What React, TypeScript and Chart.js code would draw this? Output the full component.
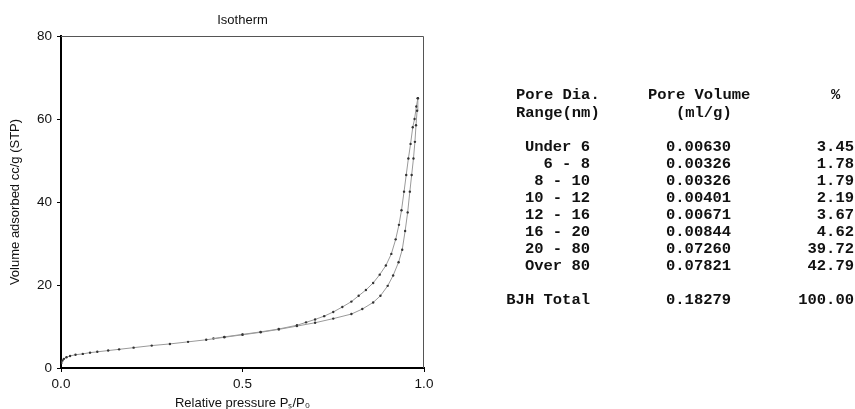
import { useEffect, useRef } from "react";
import { Chart, registerables } from "chart.js";

Chart.register(...registerables);

// ---- Isotherm data (relative pressure, volume adsorbed cc/g STP) ----
const adsorptionP = [0.001, 0.004, 0.008, 0.015, 0.025, 0.04, 0.06, 0.08, 0.1, 0.13, 0.16, 0.2, 0.25, 0.3, 0.35, 0.4, 0.45, 0.5, 0.55, 0.6, 0.65, 0.7, 0.75, 0.8, 0.83, 0.86, 0.88, 0.9, 0.915, 0.93, 0.94, 0.948, 0.955, 0.961, 0.966, 0.971, 0.975, 0.978, 0.981, 0.983];
const adsorptionV = [1.2, 1.8, 2.2, 2.6, 2.9, 3.2, 3.4, 3.7, 3.9, 4.2, 4.5, 4.9, 5.4, 5.8, 6.3, 6.8, 7.4, 8.0, 8.6, 9.3, 10.1, 10.9, 11.9, 13.0, 14.2, 15.8, 17.4, 19.8, 22.3, 25.5, 28.5, 33.0, 37.5, 42.5, 46.5, 50.5, 54.5, 58.5, 62.0, 65.0];
const desorptionP = [0.983, 0.979, 0.974, 0.969, 0.963, 0.957, 0.951, 0.945, 0.938, 0.931, 0.922, 0.91, 0.895, 0.878, 0.86, 0.84, 0.82, 0.8, 0.775, 0.75, 0.725, 0.7, 0.675, 0.65, 0.6, 0.55, 0.5, 0.45, 0.42];
const desorptionV = [65, 63, 60, 58, 54, 50.5, 46.5, 42.5, 38, 34.5, 31, 27.5, 24.7, 22.5, 20.5, 18.8, 17.4, 16.0, 14.7, 13.5, 12.5, 11.7, 11.0, 10.3, 9.4, 8.7, 8.1, 7.5, 7.1];

const xTickValues = [0, 0.5, 1];
const yTickValues = [0, 20, 40, 60, 80];

const chartTitle = "Isotherm";
const xTitle = "Relative pressure P\u209B/P\u2080";
const yTitle = "Volume adsorbed cc/g (STP)";

// ---- BJH pore table ----
const headerDia = ["Pore Dia.", "Range(nm)"];
const headerVol = ["Pore Volume", "   (ml/g)"];
const headerPct = "%";
const poreRanges = ["Under 6", "6 - 8", "8 - 10", "10 - 12", "12 - 16", "16 - 20", "20 - 80", "Over 80"];
const poreVolumes = ["0.00630", "0.00326", "0.00326", "0.00401", "0.00671", "0.00844", "0.07260", "0.07821"];
const porePercents = ["3.45", "1.78", "1.79", "2.19", "3.67", "4.62", "39.72", "42.79"];
const totalLabel = "BJH Total";
const totalVolume = "0.18279";
const totalPercent = "100.00";

const SANS = '"Liberation Sans", Arial, Helvetica, sans-serif';
const MONO = '"Liberation Mono", "Courier New", monospace';

const framePlugin = {
  id: "frameAndTitle",
  afterDraw(chart: any) {
    const { ctx, chartArea } = chart;
    const { left, right, top, bottom } = chartArea;
    ctx.save();
    ctx.strokeStyle = "#555";
    ctx.lineWidth = 1;
    ctx.beginPath();
    ctx.moveTo(left, top + 0.5);
    ctx.lineTo(right - 0.5, top + 0.5);
    ctx.lineTo(right - 0.5, bottom);
    ctx.stroke();
    ctx.fillStyle = "#111";
    ctx.font = `13px ${SANS}`;
    ctx.textAlign = "center";
    ctx.textBaseline = "middle";
    ctx.fillText(chartTitle, (left + right) / 2, 20);
    ctx.restore();
  },
};

export default function App() {
  const ref = useRef<HTMLCanvasElement>(null);

  useEffect(() => {
    const canvas = ref.current;
    if (!canvas) return;
    const toPoints = (xs: number[], ys: number[]) => xs.map((x, i) => ({ x, y: ys[i] }));
    const seriesStyle = {
      showLine: true,
      borderColor: "#9a9a9a",
      borderWidth: 1,
      pointRadius: 1.2,
      pointBackgroundColor: "#333",
      pointBorderWidth: 0,
      tension: 0,
    };
    const chart = new Chart(canvas, {
      type: "scatter",
      data: {
        datasets: [
          { label: "Adsorption", data: toPoints(adsorptionP, adsorptionV), ...seriesStyle },
          { label: "Desorption", data: toPoints(desorptionP, desorptionV), ...seriesStyle },
        ],
      },
      options: {
        responsive: false,
        animation: false,
        devicePixelRatio: 1,
        layout: { padding: { top: 36, right: 16, left: 0, bottom: 0 } },
        plugins: {
          legend: { display: false },
          tooltip: { enabled: false },
          title: { display: false },
        },
        scales: {
          x: {
            type: "linear",
            min: 0,
            max: 1,
            afterFit(scale: any) {
              scale.height = 41;
            },
            afterBuildTicks(scale: any) {
              scale.ticks = xTickValues.map((v) => ({ value: v }));
            },
            ticks: {
              color: "#111",
              font: { family: SANS, size: 13.5 },
              padding: 4,
              maxRotation: 0,
              callback: (v: any) => Number(v).toFixed(1),
            },
            grid: {
              display: true,
              drawOnChartArea: false,
              drawTicks: true,
              tickLength: 4,
              color: "#000",
              lineWidth: 1,
            },
            border: { display: true, color: "#000", width: 2 },
            title: {
              display: true,
              text: xTitle,
              color: "#111",
              font: { family: SANS, size: 13 },
              padding: { top: 0, bottom: -2 },
            },
          },
          y: {
            type: "linear",
            min: 0,
            max: 80,
            afterFit(scale: any) {
              scale.width = 61;
            },
            afterBuildTicks(scale: any) {
              scale.ticks = yTickValues.map((v) => ({ value: v }));
            },
            ticks: {
              color: "#111",
              font: { family: SANS, size: 13.5 },
              padding: 5,
            },
            grid: {
              display: true,
              drawOnChartArea: false,
              drawTicks: true,
              tickLength: 4,
              color: "#000",
              lineWidth: 1,
            },
            border: { display: true, color: "#000", width: 2 },
            title: {
              display: true,
              text: yTitle,
              color: "#111",
              font: { family: SANS, size: 13 },
              padding: { top: 8, bottom: 0 },
            },
          },
        },
      },
      plugins: [framePlugin],
    } as any);
    return () => chart.destroy();
  }, []);

  const lineH = 17;
  const cell = (text: string, top: number, style: any, key: string) => (
    <div
      key={key}
      style={{
        position: "absolute",
        top: top - 7.5,
        height: lineH,
        lineHeight: `${lineH}px`,
        whiteSpace: "pre",
        ...style,
      }}
    >
      {text}
    </div>
  );

  const rowCenters = poreRanges.map((_, i) => 146 + i * 17);

  return (
    <div
      style={{
        position: "absolute",
        left: 0,
        top: 0,
        width: 855,
        height: 409,
        background: "#fff",
        overflow: "hidden",
      }}
    >
      <canvas
        ref={ref}
        width={440}
        height={409}
        style={{ position: "absolute", left: 0, top: 0, width: 440, height: 409 }}
      />
      <div
        style={{
          position: "absolute",
          left: 0,
          top: 0,
          width: 855,
          height: 409,
          fontFamily: MONO,
          fontWeight: "bold",
          fontSize: 15.5,
          color: "#111",
        }}
      >
        {cell(headerDia[0], 94, { left: 516 }, "hd0")}
        {cell(headerDia[1], 112.5, { left: 516 }, "hd1")}
        {cell(headerVol[0], 94, { left: 648 }, "hv0")}
        {cell(headerVol[1], 112.5, { left: 648 }, "hv1")}
        {cell(headerPct, 94, { left: 831 }, "hp")}
        {poreRanges.map((r, i) =>
          cell(r, rowCenters[i], { left: 440, width: 150, textAlign: "right" }, `r${i}`)
        )}
        {poreVolumes.map((v, i) => cell(v, rowCenters[i], { left: 666 }, `v${i}`))}
        {porePercents.map((p, i) =>
          cell(p, rowCenters[i], { left: 700, width: 154, textAlign: "right" }, `p${i}`)
        )}
        {cell(totalLabel, 299, { left: 440, width: 150, textAlign: "right" }, "tl")}
        {cell(totalVolume, 299, { left: 666 }, "tv")}
        {cell(totalPercent, 299, { left: 700, width: 154, textAlign: "right" }, "tp")}
      </div>
    </div>
  );
}
